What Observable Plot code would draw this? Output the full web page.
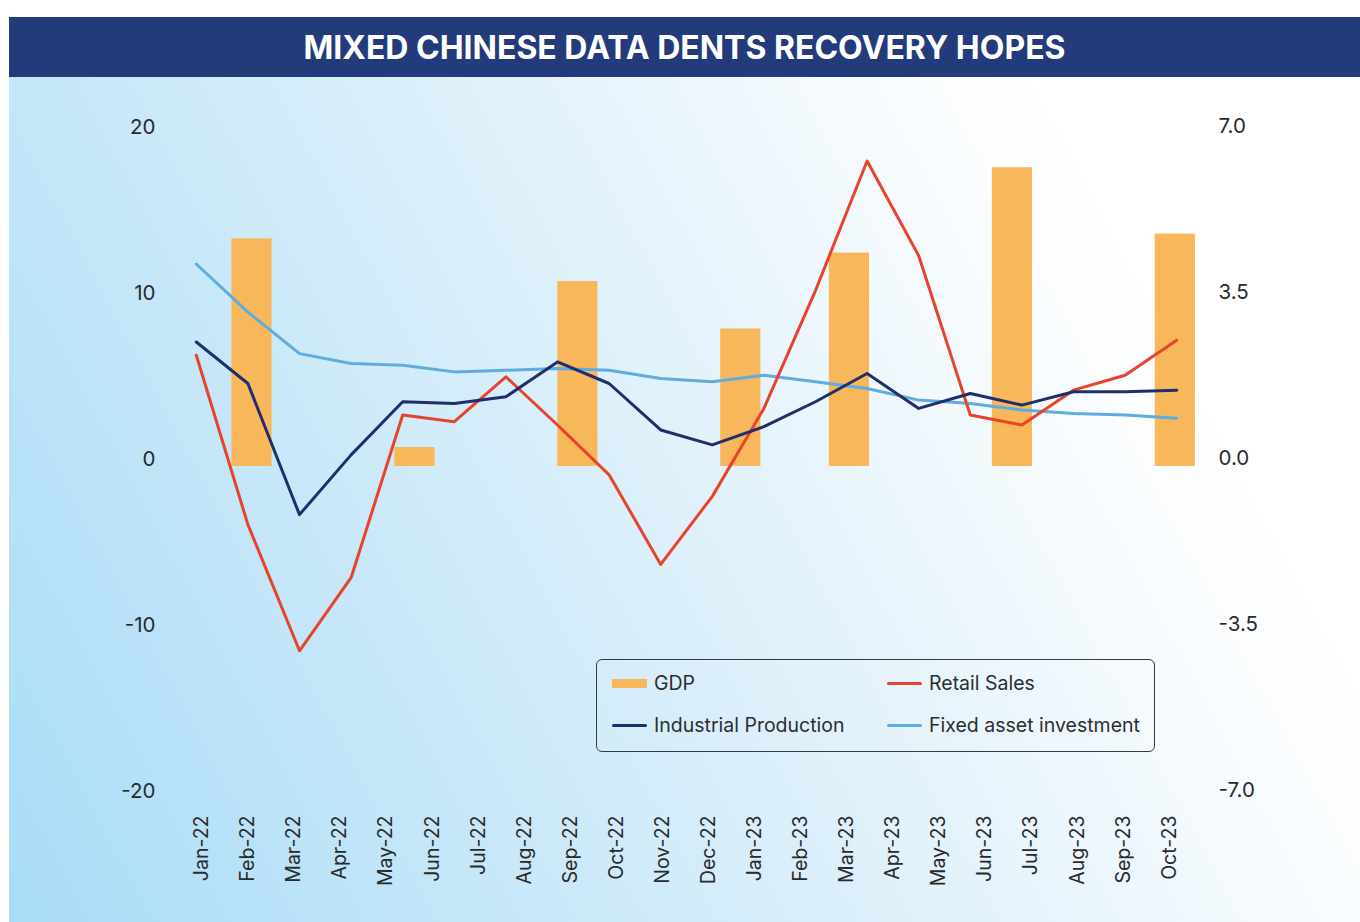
<!DOCTYPE html>
<html>
<head>
<meta charset="utf-8">
<script src="https://cdn.jsdelivr.net/npm/d3@7"></script>
<script src="https://cdn.jsdelivr.net/npm/@observablehq/plot@0.6"></script>
<style>
  html, body { margin: 0; padding: 0; background: #ffffff; }
  body { width: 1360px; height: 922px; position: relative; overflow: hidden; font-family: Inter, "Noto Sans", sans-serif; }
  #banner { position: absolute; left: 9px; top: 17px; width: 1351px; height: 60px; background: #233b7b;
    color: #fff; font-family: Inter, Roboto, sans-serif; font-weight: 700; font-size: 32px;
    display: flex; align-items: center; justify-content: center; }
  #bg { position: absolute; left: 9px; top: 77px; width: 1351px; height: 845px;
    background: linear-gradient(62deg, #a8dcf7 0%, #c9e8f9 30%, #e4f3fb 55%, #f7fbfe 72%, #ffffff 82%); }
  #chart { position: absolute; left: 0; top: 77px; }
  #legend { position: absolute; left: 596px; top: 659px; width: 557px; height: 91px; border: 1.5px solid #3a3a3a;
    border-radius: 6px; box-sizing: content-box; font-size: 19.5px; color: #2e2e2e; }
  .item { position: absolute; display: flex; align-items: center; height: 24px; }
  .sw { width: 35px; margin-right: 7px; }
</style>
</head>
<body>
<div id="banner">MIXED CHINESE DATA DENTS RECOVERY HOPES</div>
<div id="bg"></div>
<div id="chart"></div>
<div id="legend"></div>
<script>
// ---- data ----
const lineMonths = ["Jan-Feb 22","Mar 22","Apr 22","May 22","Jun 22","Jul 22","Aug 22","Sep 22","Oct 22","Nov 22","Dec 22",
  "Jan-Feb 23","Mar 23","Apr 23","May 23","Jun 23","Jul 23","Aug 23","Sep 23","Oct 23"];
const retailSales = [6.7,-3.5,-11.1,-6.7,3.1,2.7,5.4,2.5,-0.5,-5.9,-1.8,3.5,10.6,18.4,12.7,3.1,2.5,4.6,5.5,7.6];
const industrialProduction = [7.5,5.0,-2.9,0.7,3.9,3.8,4.2,6.3,5.0,2.2,1.3,2.4,3.9,5.6,3.5,4.4,3.7,4.5,4.5,4.6];
const fixedAssetInvestment = [12.2,9.3,6.8,6.2,6.1,5.7,5.8,5.9,5.8,5.3,5.1,5.5,5.1,4.7,4.0,3.8,3.4,3.2,3.1,2.9];
const gdpQuarters = ["Q1-22","Q2-22","Q3-22","Q4-22","Q1-23","Q2-23","Q3-23"];
const gdp = [4.8,0.4,3.9,2.9,4.5,6.3,4.9];
const axisLabels = ["Jan-22","Feb-22","Mar-22","Apr-22","May-22","Jun-22","Jul-22","Aug-22","Sep-22","Oct-22","Nov-22","Dec-22",
  "Jan-23","Feb-23","Mar-23","Apr-23","May-23","Jun-23","Jul-23","Aug-23","Sep-23","Oct-23"];
const leftTicks = [-20,-10,0,10,20];

// ---- layout (category slots along the x axis) ----
const lineSlots = lineMonths.length;           // 20 slots for the monthly lines
const barSlots = 19;                           // bar category axis
const gdpSlot = [1,4,7,10,12,15,18];           // slot of each quarterly bar
const barFrac = 0.74;                          // bar width relative to its slot
const labelStart = 0.0305, labelStep = 0.04464; // label axis spacing
const ratio = 20 / 7;                          // right axis (GDP) -> left axis

const colors = {gdp: "#f9b75b", retail: "#e8432b", ip: "#1f2e6d", fai: "#5eade0"};

const lineData = lineMonths.map((m, i) => ({
  m, x: (i + 0.5) / lineSlots,
  retail: retailSales[i], ip: industrialProduction[i], fai: fixedAssetInvestment[i]
}));
const barData = gdpQuarters.map((q, j) => ({
  q, v: gdp[j] * ratio,
  x1: (gdpSlot[j] + 0.5 - barFrac / 2) / barSlots,
  x2: (gdpSlot[j] + 0.5 + barFrac / 2) / barSlots
}));
const labelPos = axisLabels.map((l, k) => labelStart + k * labelStep);
const labelMap = new Map(labelPos.map((p, k) => [p, axisLabels[k]]));

const axisText = {tickSize: 0, fontVariant: "normal"};
const chart = Plot.plot({
  width: 1360, height: 845,
  marginLeft: 170, marginRight: 158, marginTop: 57, marginBottom: 124,
  style: {background: "transparent", fontFamily: "Inter, sans-serif", color: "#2a2a2a", overflow: "visible"},
  x: {domain: [0, 1], axis: null},
  y: {domain: [-20, 20], axis: null},
  marks: [
    Plot.rectY(barData, {x1: "x1", x2: "x2", y1: 0, y2: "v", fill: colors.gdp}),
    Plot.line(lineData, {x: "x", y: "fai", stroke: colors.fai, strokeWidth: 3}),
    Plot.line(lineData, {x: "x", y: "retail", stroke: colors.retail, strokeWidth: 3}),
    Plot.line(lineData, {x: "x", y: "ip", stroke: colors.ip, strokeWidth: 3}),
    Plot.axisY({...axisText, anchor: "left", ticks: leftTicks, tickPadding: 15, fontSize: 20.5, dy: -7, tickFormat: d => String(d)}),
    Plot.axisY({...axisText, anchor: "right", ticks: leftTicks, tickPadding: 16, fontSize: 20.5, dy: -8,
      tickFormat: d => (d / ratio).toFixed(1)}),
    Plot.axisX({...axisText, ticks: labelPos, tickFormat: d => labelMap.get(d), tickRotate: -90, tickPadding: 17, fontSize: 19.5})
  ]
});
document.getElementById("chart").appendChild(chart);

// ---- legend ----
const legendItems = [
  {label: "GDP", color: colors.gdp, kind: "rect", left: 15, top: 11},
  {label: "Retail Sales", color: colors.retail, kind: "line", left: 290, top: 11},
  {label: "Industrial Production", color: colors.ip, kind: "line", left: 15, top: 53},
  {label: "Fixed asset investment", color: colors.fai, kind: "line", left: 290, top: 53}
];
const lg = document.getElementById("legend");
for (const it of legendItems) {
  const d = document.createElement("div");
  d.className = "item";
  d.style.left = it.left + "px"; d.style.top = it.top + "px";
  const s = document.createElement("div");
  s.className = "sw";
  s.style.height = it.kind === "rect" ? "9px" : "3px";
  s.style.background = it.color;
  s.style.borderRadius = it.kind === "rect" ? "0" : "2px";
  const t = document.createElement("span");
  t.textContent = it.label;
  d.appendChild(s); d.appendChild(t);
  lg.appendChild(d);
}
</script>
</body>
</html>
